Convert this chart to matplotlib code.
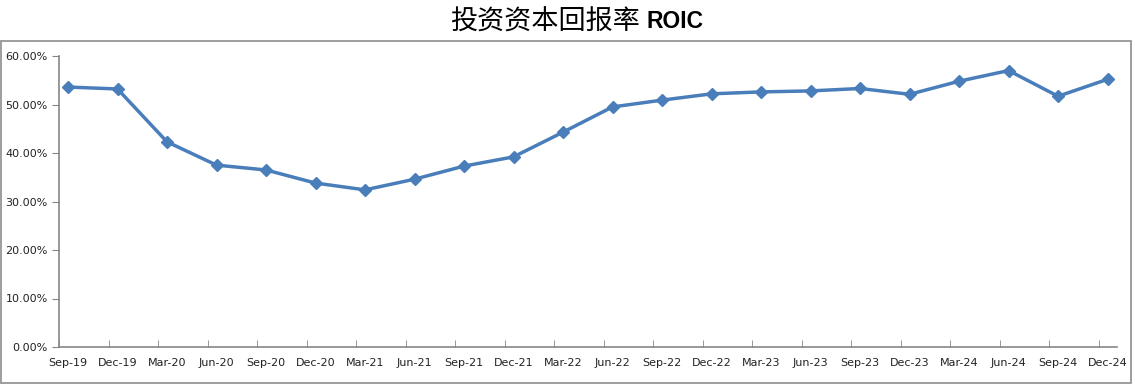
import matplotlib.pyplot as plt
from matplotlib.patches import Rectangle
from matplotlib.ticker import FuncFormatter, FixedLocator
import numpy as np

plt.rcParams['font.family'] = ['Noto Sans CJK SC', 'DejaVu Sans']

quarters = ['Sep-19', 'Dec-19', 'Mar-20', 'Jun-20', 'Sep-20', 'Dec-20', 'Mar-21', 'Jun-21',
            'Sep-21', 'Dec-21', 'Mar-22', 'Jun-22', 'Sep-22', 'Dec-22', 'Mar-23', 'Jun-23',
            'Sep-23', 'Dec-23', 'Mar-24', 'Jun-24', 'Sep-24', 'Dec-24']
roic = [53.6, 53.2, 42.3, 37.5, 36.5, 33.8, 32.4, 34.6, 37.3, 39.2, 44.3, 49.5,
        50.9, 52.2, 52.6, 52.8, 53.3, 52.1, 54.8, 57.0, 51.7, 55.2]

fig = plt.figure(figsize=(11.35, 3.89), dpi=100)
ax = fig.add_axes([59/1135, 42/389, (1117-59)/1135, (347-56)/389])

# outer chart border
fig.patches.append(Rectangle((0.5/1135, 6/389), 1130/1135, 342/389, transform=fig.transFigure,
                             fill=False, edgecolor='#8c8c8c', linewidth=1.2))

x = np.arange(len(quarters))
ax.plot(x, roic, color='#4a7ebb', linewidth=2.5, marker='D', markersize=6.5,
        markerfacecolor='#4a7ebb', markeredgecolor='#4a7ebb')

off = 9 / 49.5
ax.set_xlim(-off, len(quarters) - 1 + 0.19)
ax.set_ylim(0, 60)
ax.set_yticks(np.arange(0, 61, 10))
ax.yaxis.set_major_formatter(FuncFormatter(lambda v, p: f'{v:.2f}%'))

ax.set_xticks(x)
ax.set_xticklabels(quarters)
ax.tick_params(axis='x', length=0, pad=8)
ax.xaxis.set_minor_locator(FixedLocator(x - off))
ax.tick_params(axis='x', which='minor', length=5, color='#868686', direction='in')
ax.tick_params(axis='y', length=5, color='#868686', direction='out', pad=3)
ax.tick_params(labelsize=8, labelcolor='#222222')
for lab in ax.get_xticklabels() + ax.get_yticklabels():
    lab.set_family(['DejaVu Sans'])

for s in ['top', 'right']:
    ax.spines[s].set_visible(False)
for s in ['left', 'bottom']:
    ax.spines[s].set_color('#868686')
    ax.spines[s].set_linewidth(1.2)

fig.text(640/1135, 0.944, '投资资本回报率', ha='right', va='center', fontsize=19.5)
fig.text(646/1135, 0.944, 'ROIC', ha='left', va='center', fontsize=16.5, fontweight='bold',
         family=['Liberation Sans', 'DejaVu Sans'])

fig.savefig('out.png', dpi=100)
